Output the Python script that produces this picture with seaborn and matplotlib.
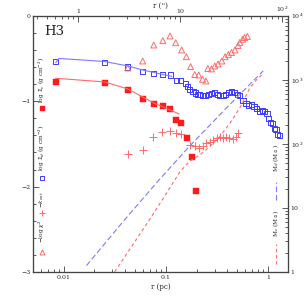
import numpy as np
import pandas as pd
import matplotlib
matplotlib.use("Agg")
import matplotlib.pyplot as plt
import seaborn as sns
from matplotlib.ticker import FixedLocator, NullFormatter, LogLocator, MultipleLocator

sns.set_style("ticks")
plt.rcParams['font.family'] = ['DejaVu Serif']

# ---------------- data ----------------
# log Sigma_d (open blue squares)
sd_r = [0.00835, 0.0252, 0.0424, 0.0594, 0.0762, 0.0930, 0.111, 0.127, 0.140, 0.155,
        0.163, 0.172, 0.185, 0.197, 0.205, 0.215, 0.230, 0.245, 0.262, 0.278, 0.300,
        0.318, 0.340, 0.365, 0.385, 0.410, 0.440, 0.470, 0.500, 0.530, 0.570, 0.610,
        0.650, 0.690, 0.730, 0.780, 0.830, 0.880, 0.930, 0.980, 1.020, 1.060, 1.100,
        1.150, 1.200, 1.250, 1.300]
sd_v = [-0.54, -0.55, -0.60, -0.65, -0.675, -0.685, -0.695, -0.755, -0.76, -0.79,
        -0.825, -0.86, -0.89, -0.905, -0.92, -0.925, -0.935, -0.935, -0.92, -0.91,
        -0.90, -0.92, -0.93, -0.93, -0.92, -0.90, -0.89, -0.90, -0.92, -0.93, -0.99,
        -1.03, -1.05, -1.04, -1.06, -1.09, -1.12, -1.11, -1.12, -1.14, -1.20, -1.25,
        -1.26, -1.32, -1.33, -1.39, -1.40]
# fit to Sigma_d (blue solid)
sdfit_r = [0.00835, 0.0090, 0.0252, 0.0424, 0.0594, 0.0762, 0.095, 0.115]
sdfit_v = [-0.55, -0.50, -0.536, -0.588, -0.635, -0.664, -0.69, -0.71]

# log Sigma_c (filled red squares)
sc_r = [0.00835, 0.0252, 0.0424, 0.0592, 0.0762, 0.0930, 0.111, 0.127, 0.142, 0.162, 0.179, 0.196]
sc_v = [-0.775, -0.787, -0.873, -0.978, -1.033, -1.056, -1.095, -1.220, -1.255, -1.434, -1.656, -2.047]
# fit to Sigma_c (red solid)
scfit_r = [0.00835, 0.0252, 0.0424, 0.0594, 0.0762, 0.110, 0.135]
scfit_v = [-0.732, -0.775, -0.857, -0.951, -1.021, -1.103, -1.150]

# -k_ext (red pluses)
k_r = [0.0422, 0.0592, 0.0754, 0.0923, 0.110, 0.125, 0.142, 0.171, 0.192, 0.213, 0.230,
       0.249, 0.270, 0.290, 0.314, 0.339, 0.364, 0.390, 0.420, 0.460, 0.490, 0.510]
k_v = [-1.618, -1.571, -1.419, -1.366, -1.349, -1.368, -1.384, -1.512, -1.530, -1.551, -1.530,
       -1.490, -1.474, -1.455, -1.434, -1.422, -1.434, -1.415, -1.434, -1.445, -1.415, -1.375]

# -log chi^2 (open red triangles)
chi_r = [0.0424, 0.0594, 0.0762, 0.0935, 0.110, 0.125, 0.143, 0.159, 0.175, 0.192, 0.210,
         0.229, 0.247, 0.258, 0.280, 0.302, 0.325, 0.354, 0.381, 0.410, 0.440, 0.475, 0.510,
         0.530, 0.565, 0.590, 0.630]
chi_v = [-0.612, -0.530, -0.343, -0.292, -0.237, -0.316, -0.401, -0.480, -0.596, -0.688,
         -0.694, -0.744, -0.764, -0.618, -0.623, -0.588, -0.565, -0.530, -0.480, -0.454,
         -0.430, -0.401, -0.349, -0.313, -0.276, -0.255, -0.243]

# cumulative masses (right axis)
md_r = [0.0167, 0.0387, 0.0859, 0.172, 0.393, 0.90]
md_v = [1.26, 6.3, 27.4, 93, 365, 1380]
mc_r = [0.0316, 0.0697, 0.1016, 0.137, 0.172, 0.215, 0.27, 0.338, 0.424, 0.531, 0.666, 0.775, 0.894]
mc_v = [1.01, 6.66, 17, 36.5, 54, 67, 91, 130, 210, 365, 750, 1000, 1240]

PC_PER_ARCSEC = 0.0138

BLUE = '#3a3aff'
BLUE_L = '#7b7bff'
RED = '#ff1a1a'
RED_L = '#ff6b6b'

fig = plt.figure(figsize=(3.05, 3.05), dpi=100)
ax = fig.add_axes([0.108, 0.108, 0.836, 0.8405])

# lines
sns.lineplot(x=sdfit_r, y=sdfit_v, ax=ax, color=BLUE_L, lw=0.8, sort=False, estimator=None)
sns.lineplot(x=scfit_r, y=scfit_v, ax=ax, color=RED_L, lw=0.8, sort=False, estimator=None)

# markers
sns.scatterplot(x=sd_r, y=sd_v, ax=ax, marker='s', s=14, facecolor='none',
                edgecolor=BLUE, linewidth=0.7)
sns.scatterplot(x=sc_r, y=sc_v, ax=ax, marker='s', s=14, color=RED, edgecolor=RED, linewidth=0.3)
sns.scatterplot(x=chi_r, y=chi_v, ax=ax, marker='^', s=18, facecolor='none',
                edgecolor=RED_L, linewidth=0.7)
ax.scatter(k_r, k_v, marker='+', s=28, color=RED_L, linewidth=0.7)

ax.set_xscale('log')
ax.set_xlim(0.005, 1.57)
ax.set_ylim(-3, 0)
ax.yaxis.set_major_locator(FixedLocator([0, -1, -2, -3]))
ax.yaxis.set_minor_locator(MultipleLocator(0.2))
ax.set_yticklabels(['0', '\u22121', '\u22122', '\u22123'])
ax.xaxis.set_major_locator(FixedLocator([0.01, 0.1, 1]))
ax.set_xticklabels(['0.01', '0.1', '1'])
ax.xaxis.set_minor_locator(LogLocator(base=10, subs=np.arange(2, 10)))
ax.xaxis.set_minor_formatter(NullFormatter())
ax.set_xlabel('r (pc)', fontsize=5, labelpad=2)
ax.set_ylabel('')

# right axis: masses
axr = ax.twinx()
sns.lineplot(x=md_r, y=md_v, ax=axr, color=BLUE_L, lw=0.8, estimator=None, sort=False)
sns.lineplot(x=mc_r, y=mc_v, ax=axr, color=RED_L, lw=0.8, estimator=None, sort=False)
axr.lines[0].set_dashes([5, 2.5])
axr.lines[1].set_dashes([3, 2.5])
axr.set_yscale('log')
axr.set_ylim(1, 1e4)
axr.set_xlim(0.005, 1.57)
axr.yaxis.set_major_locator(FixedLocator([1, 10, 100, 1000, 10000]))
axr.set_yticklabels(['1', '10', '10$^2$', '10$^3$', '10$^4$'])
axr.yaxis.set_minor_locator(LogLocator(base=10, subs=np.arange(2, 10)))
axr.yaxis.set_minor_formatter(NullFormatter())
axr.set_ylabel('')

# top axis in arcsec
axt = ax.twiny()
axt.set_xscale('log')
axt.set_xlim(0.005 / PC_PER_ARCSEC, 1.57 / PC_PER_ARCSEC)
axt.xaxis.set_major_locator(FixedLocator([1, 10, 100]))
axt.set_xticklabels(['1', '10', '10$^2$'])
axt.xaxis.set_minor_locator(LogLocator(base=10, subs=np.arange(2, 10)))
axt.xaxis.set_minor_formatter(NullFormatter())
axt.set_xlabel('')
fig.text(160 / 305, 1 - 5.5 / 305, "r ('')", fontsize=5, ha='center', va='center')

for a in (ax, axr, axt):
    a.tick_params(which='both', direction='in', labelsize=4.5, width=0.6, color='#444444')
    a.tick_params(which='major', length=4, pad=2)
    a.tick_params(which='minor', length=2)
    for s in a.spines.values():
        s.set_linewidth(0.8)
        s.set_color('#444444')
axt.tick_params(which='major', pad=1)
ax.tick_params(axis='x', which='both', top=False)
ax.tick_params(axis='y', which='both', right=False)

# labels
ax.text(0.045, 0.965, 'H3', transform=ax.transAxes, fontsize=9.5, va='top', ha='left')

lab_x = 0.035
fs = 4.2
ax.text(lab_x, 0.75, r'log $\Sigma_c$ (g cm$^{-2}$)', transform=ax.transAxes, rotation=90,
        fontsize=fs, ha='center', va='center')
ax.plot([lab_x], [0.64], transform=ax.transAxes, marker='s', ms=3.2, color=RED, ls='none')
ax.text(lab_x, 0.483, r'log $\Sigma_d$ (g cm$^{-2}$)', transform=ax.transAxes, rotation=90,
        fontsize=fs, ha='center', va='center')
ax.plot([lab_x], [0.366], transform=ax.transAxes, marker='s', ms=3.2, mfc='none',
        mec=BLUE, mew=0.7, ls='none')
ax.text(lab_x, 0.283, r'$-k_{ext}$', transform=ax.transAxes, rotation=90,
        fontsize=fs, ha='center', va='center')
ax.plot([lab_x], [0.229], transform=ax.transAxes, marker='+', ms=4.5, color=RED_L, mew=0.7, ls='none')
ax.text(lab_x, 0.16, r'$-$log $\chi^2$', transform=ax.transAxes, rotation=90,
        fontsize=fs, ha='center', va='center')
ax.plot([lab_x], [0.077], transform=ax.transAxes, marker='^', ms=3.5, mfc='none',
        mec=RED_L, mew=0.7, ls='none')

rx = 0.955
ax.text(rx, 0.445, r'M$_d$ (M$_\odot$)', transform=ax.transAxes, rotation=90,
        fontsize=fs, ha='center', va='center')
ax.plot([rx, rx], [0.28, 0.35], transform=ax.transAxes, color=BLUE_L, lw=0.8, dashes=[5, 2.5])
ax.text(rx, 0.19, r'M$_c$ (M$_\odot$)', transform=ax.transAxes, rotation=90,
        fontsize=fs, ha='center', va='center')
ax.plot([rx, rx], [0.03, 0.11], transform=ax.transAxes, color=RED_L, lw=0.8, dashes=[3, 2.5])

fig.savefig('out.png', dpi=100)
